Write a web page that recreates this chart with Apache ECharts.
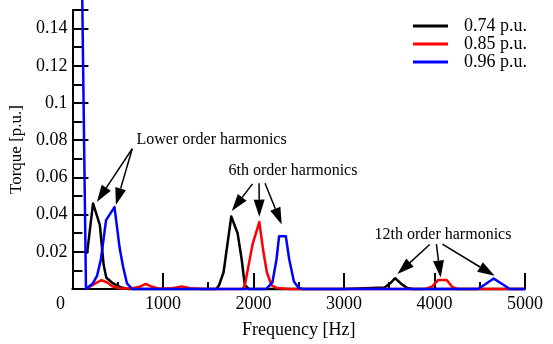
<!DOCTYPE html>
<html><head><meta charset="utf-8">
<script src="https://cdn.jsdelivr.net/npm/echarts@6/dist/echarts.min.js"></script>
<style>html,body{margin:0;padding:0;background:#fff}#c{width:553px;height:344px}</style>
</head><body><div id="c"></div>
<script>
// ---- data (frequency [Hz], torque [p.u.]) ----
const seriesNames = ['0.74 p.u.', '0.85 p.u.', '0.96 p.u.'];
const torque074 = [
  [162,0.019],[228,0.046],[303,0.0345],[345,0.013],[375,0.006],[450,0.003],[530,0.001],[620,0],
  [1000,0],[1590,0],[1620,0.002],[1670,0.009],[1755,0.039],[1825,0.030],[1870,0.016],[1905,0.002],[1950,0],
  [3000,0],[3450,0.0008],[3520,0.0035],[3565,0.0058],[3640,0.0025],[3700,0.0005],[3760,0],[5000,0]
];
const torque085 = [
  [150,0],[235,0.0025],[320,0.0048],[385,0.0035],[440,0.0015],[520,0.0004],[650,0.0003],[740,0.0012],
  [810,0.0028],[880,0.0012],[960,0.0002],[1100,0.0004],[1210,0.0014],[1300,0.0004],[1450,0],[1880,0],
  [1905,0.002],[1990,0.024],[2065,0.036],[2110,0.020],[2148,0.009],[2200,0.002],[2260,0.0005],[2400,0],
  [3900,0],[3970,0.0012],[4040,0.0048],[4135,0.0048],[4195,0.0012],[4250,0],[5000,0]
];
const torque096 = [
  [100,0.19],[150,0],[225,0.003],[272,0.007],[315,0.016],[372,0.037],[465,0.044],[522,0.022],[560,0.012],
  [603,0.003],[660,0],[2140,0],[2210,0.0036],[2255,0.016],[2283,0.0283],[2358,0.0283],[2395,0.016],
  [2447,0.004],[2500,0.0005],[2550,0],[4480,0],[4520,0.0012],[4655,0.0056],[4795,0.0012],[4830,0],[5000,0]
];
const seriesColors = ['#000000', '#ff0000', '#0000ff'];
const xTicks = {min: 0, max: 5000, step: 1000};
const yTicks = {min: 0, max: 0.15, step: 0.02};

// ---- annotations (data coordinates) ----
const noteTexts = ['Lower order harmonics', '6th order harmonics', '12th order harmonics'];
const noteCenters = [[1538,0.0802],[2437,0.0638],[4094,0.0294]];
const arrowStarts = [[661,0.0754],[661,0.0754],[1990,0.0565],[2062,0.0569],[2128,0.0569],[3947,0.0239],[4021,0.0241],[4087,0.0241]];
const arrowTips = [[270,0.0468],[480,0.0452],[1761,0.042],[2065,0.0389],[2312,0.0347],[3591,0.008],[4068,0.0062],[4664,0.0071]];

const font = "'Liberation Serif','Times New Roman',serif";
const chart = echarts.init(document.getElementById('c'), null, {renderer: 'canvas'});
const dataSets = [torque074, torque085, torque096];

const option = {
  animation: false,
  backgroundColor: '#fff',
  textStyle: {fontFamily: font, color: '#000'},
  grid: {left: 72, right: 28, top: 10, bottom: 50.5},
  legend: {
    data: seriesNames, orient: 'vertical', left: 408, top: 12,
    itemWidth: 35, itemHeight: 3, itemGap: 0, icon: 'rect',
    textStyle: {fontFamily: font, fontSize: 18, color: '#000', lineHeight: 16, padding: [0,0,0,11]}
  },
  xAxis: {
    type: 'value', min: xTicks.min, max: xTicks.max, interval: xTicks.step,
    name: 'Frequency [Hz]', nameLocation: 'middle', nameGap: 32,
    nameTextStyle: {fontFamily: font, fontSize: 18, color: '#000'},
    axisLine: {lineStyle: {color: '#000', width: 2}},
    axisTick: {inside: true, length: 16, lineStyle: {color: '#000', width: 2}},
    minorTick: {show: true, splitNumber: 2, length: 7, lineStyle: {color: '#000', width: 2}},
    splitLine: {show: false},
    axisLabel: {
      fontFamily: font, fontSize: 18, color: '#000', margin: 6,
      formatter: v => v === 0 ? '{z|0}' : String(v),
      rich: {z: {fontFamily: font, fontSize: 18, color: '#000', padding: [0,24,0,0]}}
    }
  },
  yAxis: {
    type: 'value', min: yTicks.min, max: yTicks.max, interval: yTicks.step,
    name: 'Torque [p.u.]', nameLocation: 'middle', nameGap: 39,
    nameTextStyle: {fontFamily: font, fontSize: 17, color: '#000'},
    axisLine: {show: true, lineStyle: {color: '#000', width: 2}},
    axisTick: {show: true, inside: true, length: 16, lineStyle: {color: '#000', width: 2}},
    minorTick: {show: true, splitNumber: 2, length: 10, lineStyle: {color: '#000', width: 2}},
    splitLine: {show: false},
    axisLabel: {
      fontFamily: font, fontSize: 18, color: '#000', margin: 5, showMaxLabel: false,
      formatter: v => (v === 0 || v > 0.145) ? '' : String(+v.toFixed(2))
    }
  },
  series: dataSets.map((d, i) => ({
    name: seriesNames[i], type: 'line', data: d, showSymbol: false, symbol: 'none',
    clip: false, z: 2 + i,
    lineStyle: {color: seriesColors[i], width: 2.5, join: 'round'},
    itemStyle: {color: seriesColors[i]}
  }))
};
chart.setOption(option);

// annotations drawn from data coordinates
const toPx = p => chart.convertToPixel({gridIndex: 0}, p);
const gfx = [];
noteTexts.forEach((t, i) => {
  const c = toPx(noteCenters[i]);
  gfx.push({type: 'text', x: c[0], y: c[1], z: 20,
    style: {text: t, fontFamily: font, fontSize: 16, fill: '#000', align: 'center', verticalAlign: 'middle'}});
});
arrowStarts.forEach((s, i) => {
  const a = toPx(s), b = toPx(arrowTips[i]);
  const dx = b[0] - a[0], dy = b[1] - a[1], L = Math.hypot(dx, dy);
  const ux = dx / L, uy = dy / L, hl = 17, hw = 5.5;
  const bx = b[0] - ux * hl, by = b[1] - uy * hl;
  gfx.push({type: 'line', z: 20, shape: {x1: a[0], y1: a[1], x2: bx, y2: by}, style: {stroke: '#000', lineWidth: 1.5}});
  gfx.push({type: 'polygon', z: 20, shape: {points: [[b[0], b[1]], [bx - uy * hw, by + ux * hw], [bx + uy * hw, by - ux * hw]]}, style: {fill: '#000'}});
});
chart.setOption({graphic: gfx});
</script>
</body></html>
